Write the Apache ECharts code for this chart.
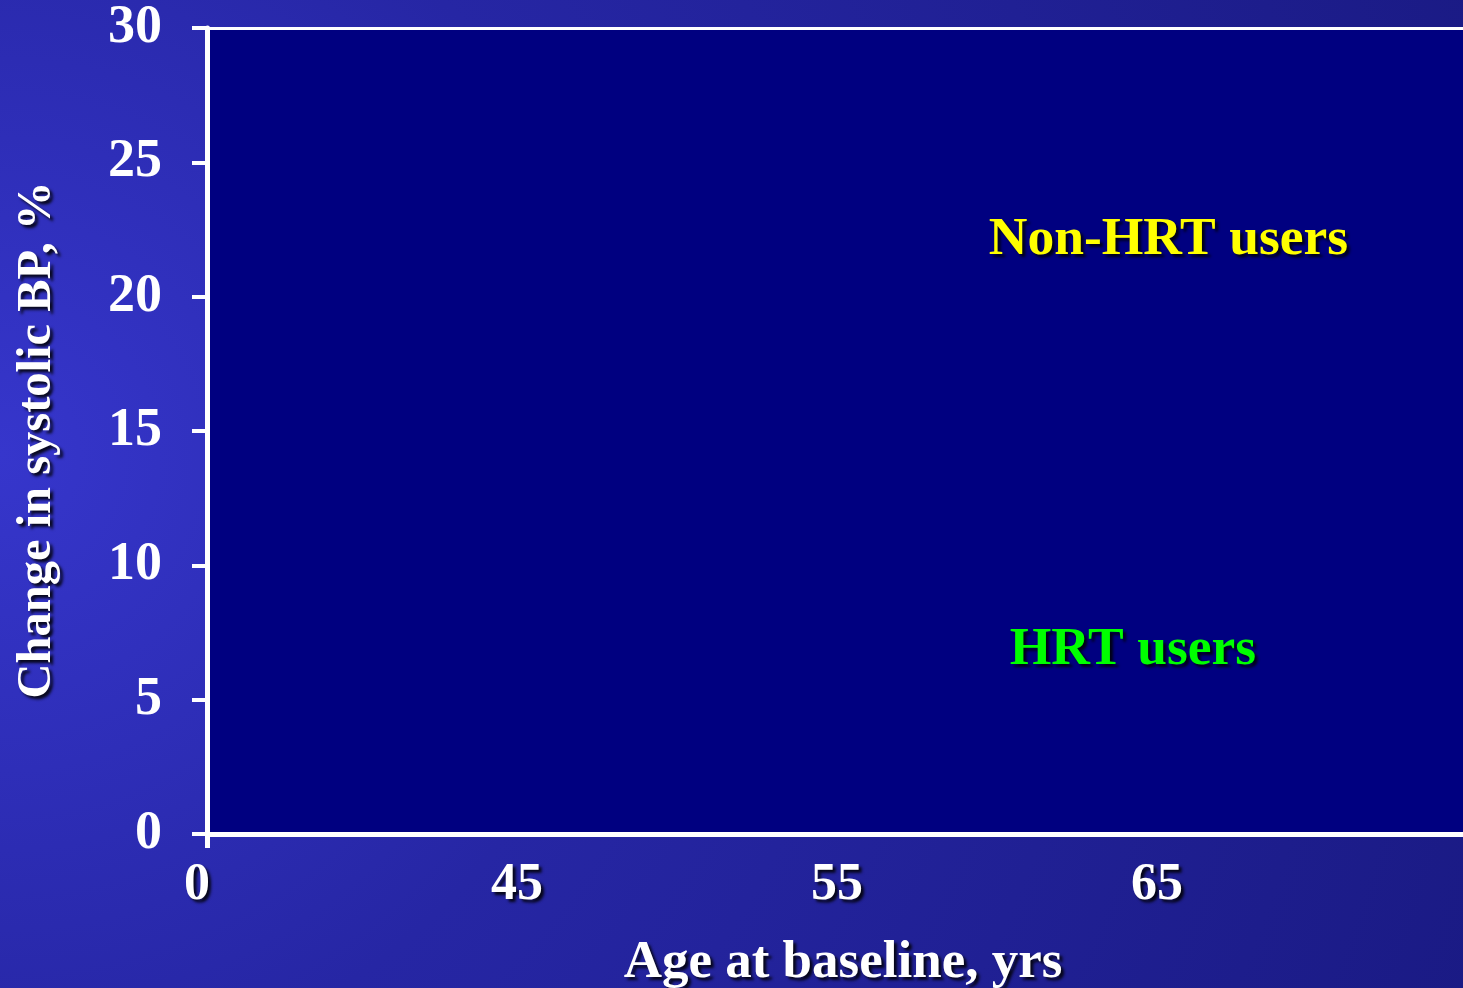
<!DOCTYPE html>
<html>
<head>
<meta charset="utf-8">
<script src="https://cdn.jsdelivr.net/npm/echarts@6/dist/echarts.min.js"></script>
<style>
html,body{margin:0;padding:0;background:#1e1e8c;}
#chart{width:1463px;height:988px;}
</style>
</head>
<body>
<div id="chart"></div>
<script>
// ---- data ----
var xTickLabels = ["0", "45", "55", "65"];      // age-axis tick labels (one slot each)
var xTickSlots = [0, 1, 2, 3];
var yMin = 0, yMax = 30, yStep = 5;
var annotationLabels = ["Non-HRT users", "HRT users"];
var annotationX = [3.006, 2.895];
var annotationY = [22.08, 6.84];
var annotationColors = ["#ffff00", "#00ff00"];
var xTitle = "Age at baseline, yrs";
var yTitle = "Change in systolic BP, %";

var FONT = '"Liberation Serif", "Times New Roman", Times, serif';
var shadow = {textShadowColor: 'rgba(0,0,0,0.85)', textShadowOffsetX: 3, textShadowOffsetY: 3, textShadowBlur: 3};

var chart = echarts.init(document.getElementById('chart'), null, {renderer: 'canvas'});

var annData = annotationLabels.map(function (t, i) {
  return {
    value: [annotationX[i], annotationY[i]],
    name: t,
    label: Object.assign({
      show: true, position: [0, 0], align: 'center', verticalAlign: 'middle', formatter: t,
      color: annotationColors[i], fontFamily: FONT, fontWeight: 'bold', fontSize: 53.5,
      opacity: 1, textBorderWidth: 0
    }, shadow)
  };
});

var option = {
  animation: false,
  backgroundColor: {
    type: 'radial', x: 0, y: 0.46, r: 1.6,
    colorStops: [
      {offset: 0, color: '#3636cc'},
      {offset: 0.4, color: '#2626a4'},
      {offset: 1, color: '#1a1a84'}
    ]
  },
  grid: {
    left: 207, top: 28, right: 0, bottom: 154,
    outerBoundsMode: 'none', containLabel: false,
    show: true, backgroundColor: '#000080', borderWidth: 0
  },
  xAxis: [{
    type: 'value', min: 0, max: 3.925, position: 'bottom',
    splitLine: {show: false},
    axisLine: {show: true, lineStyle: {color: '#ffffff', width: 5}},
    axisTick: {show: true, customValues: [0], inside: false, length: 14, lineStyle: {color: '#ffffff', width: 5}},
    axisLabel: Object.assign({
      customValues: xTickSlots,
      formatter: function (v) { return xTickLabels[Math.round(v)]; },
      color: '#ffffff', fontFamily: FONT, fontWeight: 'bold', fontSize: 52,
      margin: 26, padding: [0, 20, 0, 0]
    }, shadow),
    name: xTitle, nameLocation: 'middle', nameGap: 103,
    nameTextStyle: Object.assign({
      color: '#ffffff', fontFamily: FONT, fontWeight: 'bold', fontSize: 53,
      padding: [0, 0, 0, 16]
    }, shadow)
  }, {
    type: 'value', min: 0, max: 3.925, position: 'top',
    splitLine: {show: false},
    axisLine: {show: true, lineStyle: {color: '#ffffff', width: 3}},
    axisTick: {show: false}, axisLabel: {show: false}
  }],
  yAxis: {
    type: 'value', min: yMin, max: yMax, interval: yStep,
    splitLine: {show: false},
    axisLine: {show: true, lineStyle: {color: '#ffffff', width: 5}},
    axisTick: {show: true, inside: false, length: 15, lineStyle: {color: '#ffffff', width: 4}},
    axisLabel: {
      color: '#ffffff', fontFamily: FONT, fontWeight: 'bold', fontSize: 54, margin: 45
    },
    name: yTitle, nameLocation: 'middle', nameGap: 145, nameRotate: 90,
    nameTextStyle: Object.assign({
      color: '#ffffff', fontFamily: FONT, fontWeight: 'bold', fontSize: 48.5,
      padding: [0, 18, 0, 0]
    }, shadow)
  },
  series: [{
    type: 'scatter', xAxisIndex: 0, yAxisIndex: 0,
    symbolSize: 1, itemStyle: {color: 'rgba(0,0,0,0)', opacity: 1},
    data: annData, silent: true
  }]
};
chart.setOption(option);
</script>
</body>
</html>
